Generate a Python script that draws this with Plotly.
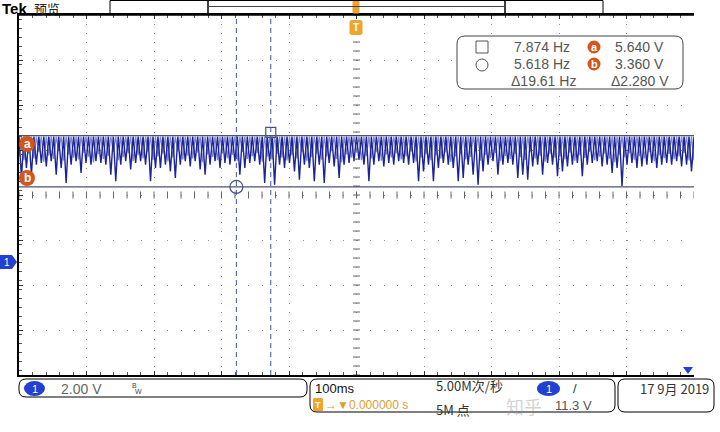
import numpy as np
import plotly.graph_objects as go

W, H = 720, 432
PL, PT, PR, PB = 19, 15, 694, 375   # plot-area pixel box

volts_per_div = 2.0
time_per_div = 0.1
cursor_a_v = 5.640
cursor_b_v = 3.360
cursor_sq_t = -0.127
cursor_ci_t = -0.178
trace_top_v = 5.60

dark_dips = [
    3.76, 4.20, 3.90, 4.35, 4.42, 4.27, 4.50, 3.90, 4.20, 3.53, 4.35, 4.50, 3.98, 4.42,
    4.35, 4.50, 4.42, 4.35, 3.90, 3.61, 4.35, 4.50, 4.13, 4.42, 4.50, 4.35, 3.61, 4.20,
    4.20, 4.35, 4.05, 3.76, 4.35, 4.50, 4.27, 4.50, 4.13, 3.90, 4.35, 4.50, 4.20, 4.42,
    4.35, 4.50, 3.90, 4.20, 4.42, 4.50, 4.35, 3.53, 4.50, 3.46, 4.35, 4.20, 4.42,
    4.05, 3.68, 4.35, 4.20, 3.61, 4.35, 3.53, 4.42, 4.27, 3.76, 4.35, 4.42, 4.50, 4.57,
    4.35, 3.61, 4.35, 4.50, 4.27, 4.42, 4.35, 4.50, 4.42, 4.35, 4.42, 3.61,
    4.05, 4.35, 3.61, 4.20, 4.42, 4.35, 4.20, 3.61, 3.76, 4.35, 3.90, 3.46, 4.05, 4.35,
    4.50, 3.90, 4.35, 4.42, 4.35, 3.76, 3.90, 3.68, 4.27, 4.35, 3.90, 4.42, 4.35, 3.83,
    4.05, 4.27, 4.35, 4.42, 3.83, 4.35, 4.42, 4.50, 4.27, 4.35, 3.98, 4.20, 3.39, 4.35,
    4.42, 4.20, 4.27, 4.35, 4.42, 4.20, 4.35, 4.42, 4.35, 4.50, 4.27, 4.35, 4.05,
]

light_dips = [
    4.70, 4.55, 4.85, 4.62, 4.90, 4.48, 4.75, 4.60, 4.95, 4.52, 4.80, 4.66, 4.58, 4.88,
    4.70, 4.45, 4.82, 4.60, 4.74, 4.92, 4.55, 4.68, 4.86, 4.50, 4.77, 4.63, 4.90, 4.57,
    4.72, 4.84, 4.49, 4.66, 4.93, 4.58, 4.75, 4.62, 4.88, 4.46, 4.80, 4.69, 4.55, 4.85,
    4.64, 4.78, 4.52, 4.91, 4.60, 4.73, 4.86, 4.48, 4.70, 4.58, 4.82, 4.66, 4.54,
    4.76, 4.62, 4.90, 4.50, 4.68, 4.84, 4.57, 4.72, 4.95, 4.60, 4.45, 4.80, 4.66, 4.88,
    4.55, 4.74, 4.62, 4.90, 4.52, 4.79, 4.67, 4.85, 4.58, 4.71, 4.93, 4.49,
    4.66, 4.82, 4.55, 4.76, 4.61, 4.89, 4.47, 4.72, 4.84, 4.58, 4.69, 4.92, 4.53, 4.78,
    4.64, 4.87, 4.50, 4.74, 4.60, 4.83, 4.68, 4.56, 4.90, 4.63, 4.75, 4.48, 4.81, 4.66,
    4.72, 4.58, 4.88, 4.52, 4.77, 4.65, 4.92, 4.55, 4.70, 4.84, 4.61, 4.46, 4.79, 4.68,
    4.86, 4.57, 4.73, 4.62, 4.90, 4.50, 4.76, 4.64, 4.83, 4.59, 4.71, 4.87, 4.54,
]

meas_rows = [
    ("7.874 Hz", "a", "5.640 V"),
    ("5.618 Hz", "b", "3.360 V"),
]
delta_f = "\u039419.61 Hz"
delta_v = "\u03942.280 V"

# ---------------- helpers (pixel -> paper, paper = plot area) ----------------
def X(x):
    return (x - PL) / (PR - PL)

def Y(y):
    return (PB - y) / (PB - PT)

def rrect(x0, y0, x1, y1, r):
    return (f"M {X(x0+r)},{Y(y0)} L {X(x1-r)},{Y(y0)} Q {X(x1)},{Y(y0)} {X(x1)},{Y(y0+r)} "
            f"L {X(x1)},{Y(y1-r)} Q {X(x1)},{Y(y1)} {X(x1-r)},{Y(y1)} "
            f"L {X(x0+r)},{Y(y1)} Q {X(x0)},{Y(y1)} {X(x0)},{Y(y1-r)} "
            f"L {X(x0)},{Y(y0+r)} Q {X(x0)},{Y(y0)} {X(x0+r)},{Y(y0)} Z")

FONT = "Liberation Sans, Arial, Noto Sans CJK SC, sans-serif"
CJK = "Noto Sans CJK SC, Liberation Sans, sans-serif"
BLUE = "#2340d0"
ORANGE = "#d2561e"
TORANGE = "#eea52e"
CURS = "#4d5278"

shapes = []
annos = []

def text(x, y, s, size=13, color="#555", anchor="left", family=FONT, vanchor="middle"):
    annos.append(dict(x=X(x), y=Y(y), xref="paper", yref="paper", text=s, showarrow=False,
                      xanchor=anchor, yanchor=vanchor, font=dict(size=size, color=color, family=family)))

def badge(cx, cy, r, letter, fill=ORANGE, size=11):
    shapes.append(dict(type="circle", xref="paper", yref="paper", x0=X(cx-r), x1=X(cx+r),
                       y0=Y(cy+r), y1=Y(cy-r), fillcolor=fill, line=dict(width=0), layer="above"))
    text(cx, cy, f"<b>{letter}</b>", size=size, color="white", anchor="center")

# ---------------- traces ----------------
n = len(dark_dips)
t = np.linspace(-5 * time_per_div, 5 * time_per_div, 2 * n + 1)
dark_y = [trace_top_v]
for d in dark_dips:
    dark_y += [d, trace_top_v]
light_y = []
for d in light_dips:
    light_y += [d, trace_top_v]
light_y.append(light_dips[-1])

fig = go.Figure()
fig.add_trace(go.Scatter(x=t, y=light_y, mode="lines", line=dict(color="#7f89c8", width=1.3),
                         hoverinfo="skip", showlegend=False))
fig.add_trace(go.Scatter(x=t, y=dark_y, mode="lines", line=dict(color="#1c249a", width=1.4),
                         hoverinfo="skip", showlegend=False))

# center-cross tick marks
cx_ticks = np.arange(-0.5, 0.5001, 0.02)
fig.add_trace(go.Scatter(x=cx_ticks, y=[3.0] * len(cx_ticks), mode="markers",
                         marker=dict(symbol="line-ns-open", size=5, color="#666",
                                     line=dict(color="#666", width=1)),
                         hoverinfo="skip", showlegend=False))
cy_ticks = np.arange(-5, 11.001, 0.4)
fig.add_trace(go.Scatter(x=[0.0] * len(cy_ticks), y=cy_ticks, mode="markers",
                         marker=dict(symbol="line-ew-open", size=5, color="#666",
                                     line=dict(color="#666", width=1)),
                         hoverinfo="skip", showlegend=False))

# cursor markers
fig.add_trace(go.Scatter(x=[cursor_sq_t], y=[cursor_a_v + 0.14], mode="markers",
                         marker=dict(symbol="square-open", size=10, color=CURS,
                                     line=dict(color=CURS, width=1.2)),
                         hoverinfo="skip", showlegend=False))
fig.add_trace(go.Scatter(x=[cursor_ci_t], y=[cursor_b_v], mode="markers",
                         marker=dict(symbol="circle-open", size=13, color=CURS,
                                     line=dict(color=CURS, width=1.2)),
                         hoverinfo="skip", showlegend=False))

# cursor lines
for v in (cursor_a_v, cursor_b_v):
    shapes.append(dict(type="line", xref="x", yref="y", x0=-0.5, x1=0.5, y0=v, y1=v,
                       line=dict(color=CURS, width=1.2), layer="above"))
for tc in (cursor_ci_t, cursor_sq_t):
    shapes.append(dict(type="line", xref="x", yref="y", x0=tc, x1=tc, y0=-5, y1=11,
                       line=dict(color="#3a55a8", width=1, dash="5px,4px"), layer="above"))

# plot top border
shapes.append(dict(type="line", xref="paper", yref="paper", x0=X(19), x1=X(694), y0=Y(15), y1=Y(15),
                   line=dict(color="black", width=1.5)))

# cursor badges on left
badge(27, 144, 8, "a", size=12)
badge(27, 178, 8, "b", size=12)

# ground marker
shapes.append(dict(type="path", xref="paper", yref="paper",
                   path=f"M {X(0)},{Y(255)} L {X(12)},{Y(255)} L {X(17)},{Y(262)} L {X(12)},{Y(269)} L {X(0)},{Y(269)} Z",
                   fillcolor=BLUE, line=dict(width=0)))
text(7, 262, "1", size=10, color="white", anchor="center")

# trigger markers
shapes.append(dict(type="path", xref="paper", yref="paper", path=rrect(349.5, 20, 362.5, 35, 2.5),
                   fillcolor=TORANGE, line=dict(width=0), layer="above"))
text(356, 28, "<b>T</b>", size=10, color="white", anchor="center")
shapes.append(dict(type="path", xref="paper", yref="paper", path=rrect(352.5, 0, 359.5, 14, 2),
                   fillcolor=TORANGE, line=dict(width=0), layer="above"))

# bottom right marker
shapes.append(dict(type="path", xref="paper", yref="paper",
                   path=f"M {X(683)},{Y(367)} L {X(693)},{Y(367)} L {X(688)},{Y(374)} Z",
                   fillcolor=BLUE, line=dict(width=0), layer="above"))

# top bar
text(0, 8, "<b>Tek</b>", size=15, color="black")
text(32, 8, "预览", size=13, color="#222", family=CJK)
shapes.append(dict(type="rect", xref="paper", yref="paper", x0=X(110), x1=X(603), y0=Y(14), y1=Y(0.5),
                   line=dict(color="black", width=1)))
shapes.append(dict(type="line", xref="paper", yref="paper", x0=X(208), x1=X(208), y0=Y(14), y1=Y(0.5),
                   line=dict(color="black", width=1.5)))
shapes.append(dict(type="line", xref="paper", yref="paper", x0=X(505), x1=X(505), y0=Y(14), y1=Y(0.5),
                   line=dict(color="black", width=1.5)))
shapes.append(dict(type="line", xref="paper", yref="paper", x0=X(208), x1=X(505), y0=Y(6.5), y1=Y(6.5),
                   line=dict(color="#444", width=1)))

# measurement box
shapes.append(dict(type="path", xref="paper", yref="paper", path=rrect(457, 36, 683, 89, 8),
                   fillcolor="white", line=dict(color="#444", width=1), layer="above"))
shapes.append(dict(type="rect", xref="paper", yref="paper", x0=X(476), x1=X(488), y0=Y(53), y1=Y(41),
                   line=dict(color="#555", width=1), layer="above"))
shapes.append(dict(type="circle", xref="paper", yref="paper", x0=X(476), x1=X(488), y0=Y(71), y1=Y(59),
                   line=dict(color="#555", width=1), layer="above"))
for (fs, lt, vs), yy in zip(meas_rows, (47, 64)):
    text(572, yy, fs, size=14, anchor="right")
    badge(594, yy, 6.5, lt, size=11)
    text(666, yy, vs, size=14, anchor="right")
text(578, 81, delta_f, size=14, anchor="right")
text(671, 81, delta_v, size=14, anchor="right")

# bottom status bar
shapes.append(dict(type="path", xref="paper", yref="paper", path=rrect(19, 379, 307, 397, 7),
                   line=dict(color="black", width=1)))
shapes.append(dict(type="circle", xref="paper", yref="paper", x0=X(24), x1=X(45), y0=Y(396), y1=Y(381),
                   fillcolor=BLUE, line=dict(width=0)))
text(34.5, 388.5, "1", size=11, color="white", anchor="center")
text(59, 388.5, "2.00 V", size=14, color="#666")
text(130, 386, "B", size=7, color="#444")
text(133, 391, "W", size=7, color="#444")

shapes.append(dict(type="path", xref="paper", yref="paper", path=rrect(310, 379, 615, 412, 7),
                   line=dict(color="black", width=1)))
text(313, 388.5, "100ms", size=13, color="#111")
text(434, 396.5, "5.00M次/秒", size=13, color="#333", family=CJK, vanchor="bottom")
shapes.append(dict(type="circle", xref="paper", yref="paper", x0=X(537), x1=X(560), y0=Y(396), y1=Y(381),
                   fillcolor=BLUE, line=dict(width=0)))
text(548.5, 388.5, "1", size=11, color="white", anchor="center")
text(571, 388.5, "/", size=13, color="#333")
shapes.append(dict(type="path", xref="paper", yref="paper", path=rrect(313, 398, 323, 411, 1.5),
                   fillcolor=TORANGE, line=dict(width=0)))
text(318, 404.5, "<b>T</b>", size=9, color="white", anchor="center")
text(323, 405, "\u2192\u25bc0.000000 s", size=12, color="#d9a030")
text(434, 397.5, "5M 点", size=13, color="#333", family=CJK, vanchor="top")
text(553, 405, "11.3 V", size=13, color="#555")

shapes.append(dict(type="path", xref="paper", yref="paper", path=rrect(618, 379, 714, 412, 7),
                   line=dict(color="black", width=1)))
text(711, 388.5, "17 9月 2019", size=13, color="#333", anchor="right", family=CJK)

text(524, 406, "知乎", size=18, color="rgba(140,140,140,0.4)", anchor="center", family=CJK)

fig.update_layout(
    width=W, height=H,
    margin=dict(l=PL, r=W - PR, t=PT, b=H - PB, pad=0),
    paper_bgcolor="white", plot_bgcolor="white",
    showlegend=False,
    shapes=shapes, annotations=annos,
    xaxis=dict(range=[-0.5, 0.5], tick0=0, dtick=time_per_div, showticklabels=False,
               showgrid=True, gridcolor="#8a8a8a", gridwidth=1, griddash="1px,8px",
               zeroline=False, showline=True, linecolor="black", linewidth=2, mirror="ticks",
               ticks="inside", ticklen=4, tickcolor="#333",
               minor=dict(dtick=0.02, ticks="inside", ticklen=3, tickcolor="#555", showgrid=False),
               fixedrange=True),
    yaxis=dict(range=[-5, 11], tick0=1, dtick=volts_per_div, showticklabels=False,
               showgrid=True, gridcolor="#8a8a8a", gridwidth=1, griddash="1px,12.5px",
               zeroline=False, showline=True, linecolor="black", linewidth=1.5,
               ticks="inside", ticklen=4, tickcolor="#333",
               minor=dict(dtick=0.4, ticks="inside", ticklen=3, tickcolor="#555", showgrid=False),
               fixedrange=True),
)

fig.write_html("out.html", config={"displayModeBar": False},
               post_script="document.body.style.margin='0';document.body.style.padding='0';")
